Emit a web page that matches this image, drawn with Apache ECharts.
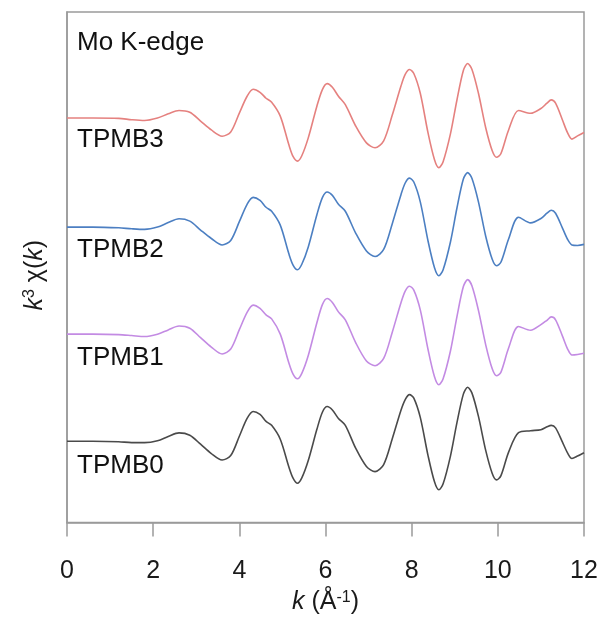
<!DOCTYPE html>
<html><head><meta charset="utf-8">
<script src="https://cdn.jsdelivr.net/npm/echarts@6/dist/echarts.min.js"></script>
<style>html,body{margin:0;padding:0;background:#fff}#c{width:603px;height:620px}</style>
</head><body><div id="c"></div>
<script>
// k values (Å^-1)
var kValues = [0,0.6,1.2,1.5,1.8,2.1,2.35,2.6,2.85,3.1,3.35,3.6,3.8,4.0,4.18,4.32,4.48,4.62,4.75,4.95,5.15,5.25,5.35,5.45,5.6,5.8,5.93,6.04,6.16,6.3,6.46,6.7,6.95,7.15,7.35,7.55,7.75,7.85,7.95,8.05,8.2,8.38,8.53,8.63,8.73,8.9,9.05,9.2,9.3,9.4,9.55,9.72,9.87,9.97,10.07,10.25,10.48,10.76,11.0,11.14,11.24,11.34,11.5,11.62,11.72,11.85,12.0];
// k^3 chi(k), arbitrary units, before vertical stacking offset
var tpmb3 = [0,0,-0.3,-1.7,-2.5,0,4.3,7.7,5.8,-3,-12,-18.3,-14,5,22,29,26,20,16,2,-27,-39,-43.4,-38,-20,12,29,34.7,31,22,13.5,-8,-25,-30,-23,3,32,44,49,45,25,-15,-42,-50,-44,-16,18,48,55,49,25,-10,-33,-39.6,-36,-12,7.7,4.8,9.6,15,18.3,15,-2,-15,-21.2,-18,-14.5];
var tpmb2 = [0,0,-0.7,-1.7,-2.3,0,4.6,8.4,6,-3,-11.5,-18,-13.5,5.5,23,30,27,20,16,2,-27,-38.5,-43,-37.5,-20,12.5,30,35.4,32,23,16,-6,-24,-29.7,-22.5,3.5,32.5,44.5,49.4,45.5,25.5,-14,-41,-49,-43,-15,19,48.5,55,49,25.5,-9.5,-32.5,-39,-35.5,-12,10,4.3,8.7,14,17,14,-1,-12.5,-18,-18.5,-17.4];
var tpmb1 = [0,0,-0.5,-1.4,-2.4,0,4.3,8.2,6,-3.5,-13,-20,-15,4.5,22,29.3,26,19.5,15.4,0,-29,-40.5,-45,-39.5,-21.5,11.5,30,36,32,22.5,14.5,-8.5,-27,-31.8,-24.5,2,31.5,43.5,48.4,44.5,24.5,-15.5,-43,-51,-45,-17,17.5,48,55,48.5,24,-11,-35,-42,-38.5,-14,7.7,3.9,9.6,14,17.4,14.5,-2,-15,-21,-20.5,-19.3];
var tpmb0 = [0,0,-0.5,-1.4,-1.4,0.5,4.8,8.4,6,-3,-12.5,-19,-14.5,5,23,30,27,20,16,2,-26,-37.5,-42.4,-37,-19.5,12,29.5,35,31.5,23,16,-7,-25.5,-30.7,-23.5,2.5,31,42,47,43.5,24,-14.5,-41,-49,-43,-15,18.5,47.5,54.4,48.5,25,-9.5,-32.5,-39,-35,-11,8.7,10.6,11.6,14.5,16,13.5,-1,-12,-17.4,-15,-11.6];
var seriesNames = ['TPMB3','TPMB2','TPMB1','TPMB0'];
var seriesValues = [tpmb3, tpmb2, tpmb1, tpmb0];
var stackOffsets = [408, 298, 190, 82];
var xTicks = [0,2,4,6,8,10,12];

var colors = ['#E5817F','#4C7FC2','#C38BE3','#4A4A4A'];
var FONT = "'Liberation Sans', Arial, sans-serif";

var chart = echarts.init(document.getElementById('c'), null, {renderer:'canvas'});
var series = seriesValues.map(function(vals, si){
  return {
    name: seriesNames[si], type: 'line', showSymbol: false, smooth: 0.3,
    lineStyle: {color: colors[si], width: 1.6},
    data: kValues.map(function(k, i){ return [k, stackOffsets[si] + vals[i]]; }),
    silent: true, animation: false
  };
});

var labelY = [138, 248, 356, 464];
var graphics = [{type:'text', left:77, top:30, style:{text:'Mo K-edge', font:'26px '+FONT, fill:'#111'}}];
seriesNames.forEach(function(n, i){
  graphics.push({type:'text', left:77, top:labelY[i]-11, style:{text:n, font:'26px '+FONT, fill:'#111'}});
});

var richStyles = {i:{fontStyle:'italic', fontSize:25, fontFamily:FONT, color:'#1a1a1a'},
                  n:{fontSize:25, fontFamily:FONT, color:'#1a1a1a'},
                  sup:{fontSize:16, fontFamily:FONT, color:'#1a1a1a', verticalAlign:'top', padding:[0,0,10,0]}};

chart.setOption({
  animation: false,
  backgroundColor: '#fff',
  grid: {left:67, right:19, top:12, bottom:93, show:true, borderColor:'#9a9a9a', borderWidth:1.5, containLabel:false},
  xAxis: {
    type:'value', min:0, max:12, interval:2,
    axisLine:{show:true, lineStyle:{color:'#9a9a9a', width:1.5}},
    axisTick:{show:true, inside:false, length:14, lineStyle:{color:'#9a9a9a', width:1.5}},
    splitLine:{show:false},
    axisLabel:{fontSize:25, color:'#1a1a1a', fontFamily:FONT, margin:36,
      formatter:function(v){ return xTicks.indexOf(v) >= 0 ? String(v) : ''; }},
    name:'{i|k}{n| (Å}{sup|-1}{n|)}', nameLocation:'middle', nameGap:67,
    nameTextStyle:{fontSize:25, color:'#1a1a1a', fontFamily:FONT, rich:richStyles}
  },
  yAxis: {
    type:'value', min:0, max:515,
    axisLine:{show:true, lineStyle:{color:'#9a9a9a', width:1.5}},
    axisTick:{show:false}, axisLabel:{show:false}, splitLine:{show:false},
    name:'{i|k}{sup|3}{n| χ(}{i|k}{n|)}', nameLocation:'middle', nameRotate:90, nameGap:19,
    nameTextStyle:{fontSize:25, color:'#1a1a1a', fontFamily:FONT, padding:[0,16,0,0], rich:richStyles}
  },
  series: series,
  graphic: graphics
});
</script></body></html>
